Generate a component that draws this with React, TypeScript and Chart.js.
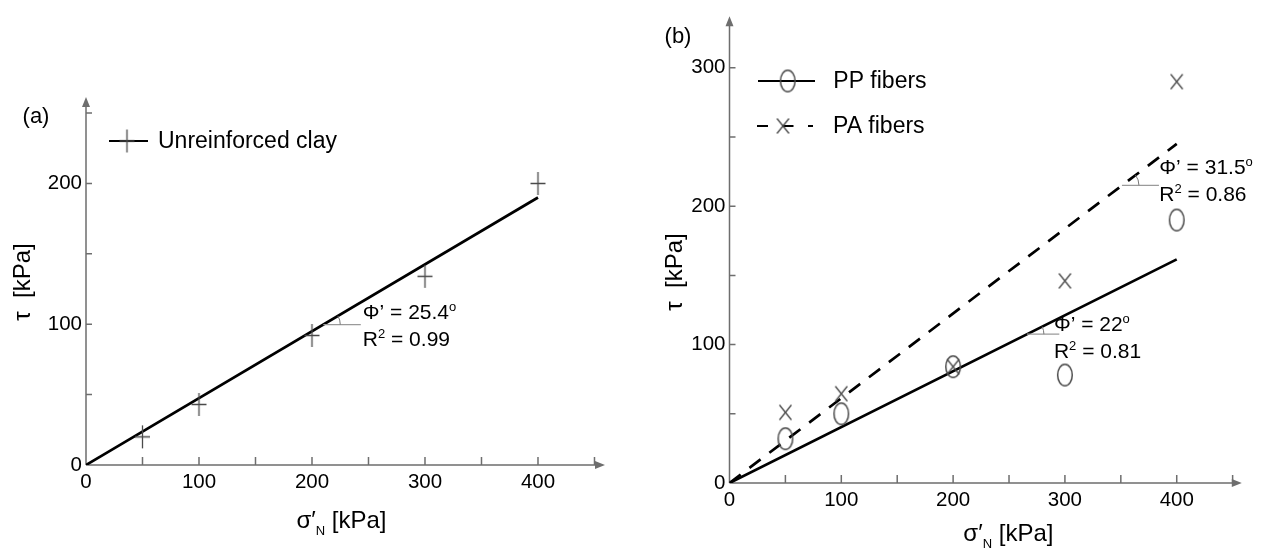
import React, { useEffect, useRef } from 'react';
import { Chart, registerables } from 'chart.js';

Chart.register(...registerables);

// ---------- data ----------
const clayStress = [50, 100, 200, 300, 400];
const clayShear = [20, 43, 92, 134, 200];
const clayFitStress = [0, 400];
const clayFitShear = [0, 190];

const fiberStress = [50, 100, 200, 300, 400];
const ppShear = [32, 50, 84, 78, 190];
const paShear = [51, 64.5, 84, 146, 290];
const ppFitStress = [0, 400];
const ppFitShear = [0, 161.6];
const paFitStress = [0, 400];
const paFitShear = [0, 245];

const xTickLabels = [0, 100, 200, 300, 400];
const xTickMarks = [50, 100, 150, 200, 250, 300, 350, 400, 450];
const leftYTickLabels = [0, 100, 200];
const leftYTickMarks = [50, 100, 150, 200, 250];
const rightYTickLabels = [0, 100, 200, 300];
const rightYTickMarks = [50, 100, 150, 200, 250, 300];

const FONT = "'Liberation Sans', Arial, Helvetica, sans-serif";
const AXIS = '#6e6e6e';
const MARK = '#4a4a4a';

function makePlus(): HTMLCanvasElement {
  const c = document.createElement('canvas');
  c.width = 17; c.height = 25;
  const g = c.getContext('2d')!;
  g.strokeStyle = MARK; g.lineWidth = 1.3;
  g.beginPath();
  g.moveTo(1, 12.5); g.lineTo(16, 12.5);
  g.moveTo(8.5, 1); g.lineTo(8.5, 24);
  g.stroke();
  return c;
}
function makeEllipse(): HTMLCanvasElement {
  const c = document.createElement('canvas');
  c.width = 18; c.height = 25;
  const g = c.getContext('2d')!;
  g.strokeStyle = MARK; g.lineWidth = 1.5;
  g.beginPath();
  g.ellipse(9, 12.5, 7.3, 10.8, 0, 0, Math.PI * 2);
  g.stroke();
  return c;
}
function makeX(): HTMLCanvasElement {
  const c = document.createElement('canvas');
  c.width = 15; c.height = 18;
  const g = c.getContext('2d')!;
  g.strokeStyle = MARK; g.lineWidth = 1.3;
  g.beginPath();
  g.moveTo(1.5, 1.5); g.lineTo(13.5, 16.5);
  g.moveTo(13.5, 1.5); g.lineTo(1.5, 16.5);
  g.stroke();
  return c;
}

type Part = { t: string; size: number; dy?: number };
function drawRich(ctx: CanvasRenderingContext2D, parts: Part[], x: number, y: number, align: 'left' | 'center' = 'left') {
  let w = 0;
  for (const p of parts) { ctx.font = `${p.size}px ${FONT}`; w += ctx.measureText(p.t).width; }
  let cx = align === 'center' ? x - w / 2 : x;
  ctx.textAlign = 'left';
  ctx.textBaseline = 'alphabetic';
  for (const p of parts) {
    ctx.font = `${p.size}px ${FONT}`;
    ctx.fillText(p.t, cx, y + (p.dy || 0));
    cx += ctx.measureText(p.t).width;
  }
}

type Annot = { ax: number; ay: number; lineLen: number; tx: number; phiY: number; rY: number; phi: string; r2: string };
type LegendItem = { x1: number; x2: number; y: number; mx: number; dash?: number[]; img: HTMLCanvasElement; tx: number; label: string };

function overlayPlugin(cfg: {
  xMarks: number[]; yMarks: number[];
  annots: Annot[]; legend: LegendItem[];
  panel: { t: string; x: number; y: number };
  xTitleCx: number; xTitleY: number; yTitleX: number; yTitleCy: number;
}) {
  return {
    id: 'overlay',
    beforeDatasetsDraw(chart: any) {
      const { ctx, chartArea: ca, scales: { x, y } } = chart;
      const x0 = x.getPixelForValue(0), y0 = y.getPixelForValue(0);
      ctx.save();
      ctx.strokeStyle = AXIS; ctx.fillStyle = AXIS; ctx.lineWidth = 1.5;
      ctx.beginPath();
      ctx.moveTo(x0, y0); ctx.lineTo(ca.right - 6, y0);
      ctx.moveTo(x0, y0); ctx.lineTo(x0, ca.top + 6);
      for (const v of cfg.xMarks) { const px = x.getPixelForValue(v); ctx.moveTo(px, y0); ctx.lineTo(px, y0 - 8); }
      for (const v of cfg.yMarks) { const py = y.getPixelForValue(v); ctx.moveTo(x0, py); ctx.lineTo(x0 + 6, py); }
      ctx.stroke();
      ctx.beginPath();
      ctx.moveTo(ca.right, y0); ctx.lineTo(ca.right - 10, y0 - 4); ctx.lineTo(ca.right - 10, y0 + 4); ctx.closePath();
      ctx.moveTo(x0, ca.top); ctx.lineTo(x0 - 4, ca.top + 10); ctx.lineTo(x0 + 4, ca.top + 10); ctx.closePath();
      ctx.fill();
      ctx.restore();
    },
    afterDatasetsDraw(chart: any) {
      const { ctx, scales: { x, y } } = chart;
      ctx.save();
      ctx.fillStyle = '#000';
      // annotations
      for (const a of cfg.annots) {
        const px = x.getPixelForValue(a.ax), py = y.getPixelForValue(a.ay);
        ctx.strokeStyle = '#9a9a9a'; ctx.lineWidth = 1.2;
        ctx.beginPath(); ctx.moveTo(px, py); ctx.lineTo(px + a.lineLen, py); ctx.stroke();
        const ang = Math.atan2(py - y.getPixelForValue(a.ay * 2), x.getPixelForValue(a.ax * 2) - px);
        ctx.strokeStyle = '#777'; ctx.lineWidth = 1;
        ctx.beginPath(); ctx.arc(px, py, 17, -ang, 0); ctx.stroke();
        ctx.fillStyle = '#000';
        drawRich(ctx, [{ t: 'Φ’ = ' + a.phi, size: 21 }, { t: 'o', size: 13, dy: -8 }], px + a.tx, py + a.phiY + 7.5);
        drawRich(ctx, [{ t: 'R', size: 21 }, { t: '2', size: 13, dy: -8 }, { t: ' = ' + a.r2, size: 21 }], px + a.tx, py + a.rY + 7.5);
      }
      // legend
      for (const l of cfg.legend) {
        ctx.strokeStyle = '#000'; ctx.lineWidth = 2;
        ctx.setLineDash(l.dash || []);
        ctx.beginPath(); ctx.moveTo(l.x1, l.y); ctx.lineTo(l.x2, l.y); ctx.stroke();
        ctx.setLineDash([]);
        ctx.drawImage(l.img, l.mx - l.img.width / 2, l.y - l.img.height / 2);
        ctx.fillStyle = '#000';
        ctx.font = `23px ${FONT}`; ctx.textAlign = 'left'; ctx.textBaseline = 'middle';
        ctx.fillText(l.label, l.tx, l.y + 1);
      }
      // panel label
      ctx.font = `22px ${FONT}`; ctx.textAlign = 'center'; ctx.textBaseline = 'middle';
      ctx.fillText(cfg.panel.t, cfg.panel.x, cfg.panel.y);
      // x title
      drawRich(ctx, [{ t: 'σ′', size: 24 }, { t: 'N', size: 13, dy: 7 }, { t: ' [kPa]', size: 24 }], cfg.xTitleCx, cfg.xTitleY + 8, 'center');
      // y title
      ctx.save();
      ctx.translate(cfg.yTitleX, cfg.yTitleCy);
      ctx.rotate(-Math.PI / 2);
      ctx.font = `24px ${FONT}`; ctx.textAlign = 'center'; ctx.textBaseline = 'middle';
      ctx.fillText('τ  [kPa]', 0, 0);
      ctx.restore();
      ctx.restore();
    },
  };
}

function pts(xs: number[], ys: number[]) { return xs.map((v, i) => ({ x: v, y: ys[i] })); }

function scaleOpts(min: number, max: number, labels: number[], size: number, pad: number, horizontal: boolean) {
  return {
    type: 'linear' as const,
    min, max,
    grid: { display: false, drawTicks: false },
    border: { display: false },
    afterBuildTicks: (s: any) => { s.ticks = labels.map((v) => ({ value: v })); },
    afterFit: (s: any) => { if (horizontal) s.height = size; else s.width = size; },
    ticks: { font: { family: FONT, size: 20.5 }, color: '#000', padding: pad, maxRotation: 0, autoSkip: false },
  };
}

export default function App() {
  const leftRef = useRef<HTMLCanvasElement>(null);
  const rightRef = useRef<HTMLCanvasElement>(null);

  useEffect(() => {
    const plus = makePlus();
    const ell = makeEllipse();
    const cross = makeX();

    const left = new Chart(leftRef.current!, {
      type: 'scatter',
      data: {
        datasets: [
          { label: 'Unreinforced clay', data: pts(clayStress, clayShear), pointStyle: plus as any, pointRadius: 6, showLine: false },
          { label: 'fit', data: pts(clayFitStress, clayFitShear), showLine: true, pointRadius: 0, borderColor: '#000', borderWidth: 2.7 },
        ],
      },
      options: {
        animation: false, responsive: false, devicePixelRatio: 1,
        layout: { padding: { left: 0, top: 97, right: 25, bottom: 0 } },
        plugins: { legend: { display: false }, tooltip: { enabled: false } },
        scales: {
          x: scaleOpts(0, 459.3, xTickLabels, 88, 5, true),
          y: scaleOpts(0, 261.4, leftYTickLabels, 86, 4, false),
        },
      } as any,
      plugins: [overlayPlugin({
        xMarks: xTickMarks, yMarks: leftYTickMarks,
        annots: [{ ax: 210, ay: 99.75, lineLen: 37.5, tx: 39.5, phiY: -12.6, rY: 13.7, phi: '25.4', r2: '0.99' }],
        legend: [{ x1: 109, x2: 148, y: 141, mx: 127, img: plus, tx: 158, label: 'Unreinforced clay' }],
        panel: { t: '(a)', x: 36, y: 117 },
        xTitleCx: 341.5, xTitleY: 520, yTitleX: 23, yTitleCy: 282,
      }) as any],
    });

    const right = new Chart(rightRef.current!, {
      type: 'scatter',
      data: {
        datasets: [
          { label: 'PP fibers', data: pts(fiberStress, ppShear), pointStyle: ell as any, pointRadius: 6, showLine: false },
          { label: 'PA fibers', data: pts(fiberStress, paShear), pointStyle: cross as any, pointRadius: 6, showLine: false },
          { label: 'PP fit', data: pts(ppFitStress, ppFitShear), showLine: true, pointRadius: 0, borderColor: '#000', borderWidth: 2.7 },
          { label: 'PA fit', data: pts(paFitStress, paFitShear), showLine: true, pointRadius: 0, borderColor: '#000', borderWidth: 2.7, borderDash: [14, 11] },
        ],
      },
      options: {
        animation: false, responsive: false, devicePixelRatio: 1,
        layout: { padding: { left: 0, top: 5, right: 23.2, bottom: 0 } },
        plugins: { legend: { display: false }, tooltip: { enabled: false } },
        scales: {
          x: scaleOpts(0, 458.2, xTickLabels, 70, 5, true),
          y: scaleOpts(0, 337.2, rightYTickLabels, 99.5, 4, false),
        },
      } as any,
      plugins: [overlayPlugin({
        xMarks: xTickMarks, yMarks: rightYTickMarks,
        annots: [
          { ax: 351, ay: 215.1, lineLen: 37, tx: 37.4, phiY: -18.3, rY: 8.4, phi: '31.5', r2: '0.86' },
          { ax: 266, ay: 107.5, lineLen: 32.4, tx: 27, phiY: -10.7, rY: 16, phi: '22', r2: '0.81' },
        ],
        legend: [
          { x1: 128, x2: 185, y: 81, mx: 157.7, img: ell, tx: 203.3, label: 'PP fibers' },
          { x1: 127, x2: 183, y: 126, mx: 153, dash: [11, 14.5], img: cross, tx: 203, label: 'PA fibers' },
        ],
        panel: { t: '(b)', x: 48, y: 36.7 },
        xTitleCx: 378.4, xTitleY: 533, yTitleX: 45, yTitleCy: 272,
      }) as any],
    });

    return () => { left.destroy(); right.destroy(); };
  }, []);

  return (
    <div style={{ position: 'absolute', left: 0, top: 0, width: 1265, height: 553, background: '#fff' }}>
      <canvas ref={leftRef} width={630} height={553} style={{ position: 'absolute', left: 0, top: 0, width: 630, height: 553 }} />
      <canvas ref={rightRef} width={635} height={553} style={{ position: 'absolute', left: 630, top: 0, width: 635, height: 553 }} />
    </div>
  );
}
